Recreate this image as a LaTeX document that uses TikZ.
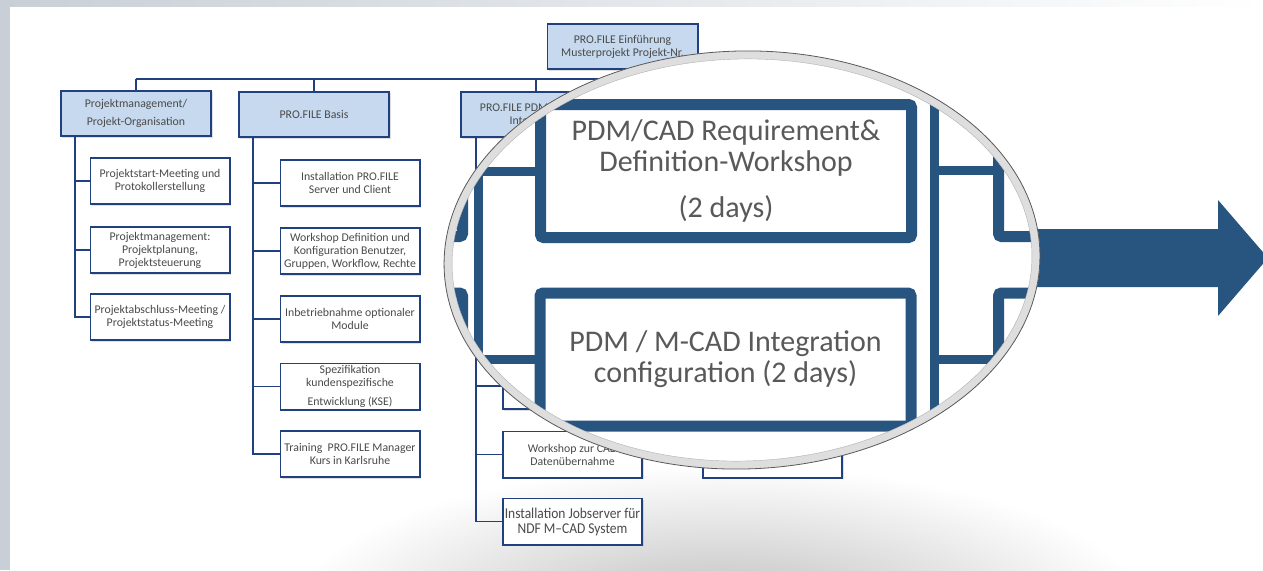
\documentclass[tikz,border=0pt]{standalone}
\usepackage{fontspec}
\setmainfont{Carlito}
\newfontfamily\jobfont[FakeStretch=0.9]{Carlito}
\usetikzlibrary{shadows,positioning}
\definecolor{navy}{HTML}{21407F}
\definecolor{lightblue}{HTML}{C6D9EE}
\definecolor{steel}{HTML}{285580}
\definecolor{txtgray}{HTML}{4A4A4A}
\definecolor{strip}{HTML}{C8CFD6}
\tikzset{
  box/.style={draw=navy, line width=1.6pt, fill=white, text=txtgray, align=center,
    minimum width=139.4pt, minimum height=46.4pt, inner sep=1pt,
    font=\fontsize{11.8}{13}\selectfont,
    drop shadow={shadow xshift=1.5pt, shadow yshift=-1.5pt, opacity=.25}},
  headbox/.style={box, fill=lightblue, minimum width=150.4pt, minimum height=45.4pt},
  link/.style={draw=navy, line width=1.6pt},
  bigbox/.style={draw=steel, line width=11pt, rounded corners=3pt, fill=white,
    text=black!65, align=center, inner sep=0pt,
    minimum width=371pt, minimum height=133pt,
    font=\fontsize{30}{31}\selectfont,
    drop shadow={shadow xshift=2pt, shadow yshift=-3pt, opacity=.3}},
  biglink/.style={draw=steel, line width=9pt},
  lens/.style={shift={(742,260)}, rotate=1.5}
}
\begin{document}
\begin{tikzpicture}[x=1pt,y=-1pt]
\clip (0,0) rectangle (1263,570);
\fill[white] (0,0) rectangle (1263,570);
\shade[inner color=black!26, outer color=white] (720,615) ellipse [x radius=430, y radius=150];
\shade[left color=strip, right color=white] (0,0) rectangle (1263,6);
\fill[strip] (0,0) rectangle (10,570);

% overview chart
\node[headbox] (top) at (622.5,46.5) {PRO.FILE Einführung\\Musterprojekt Projekt-Nr.};
\node[headbox] (pm) at (136,113.5) {Projektmanagement/\\[5pt]Projekt-Organisation};
\node[headbox] (basis) at (314,114.5) {PRO.FILE Basis};
\node[headbox] (integ) at (536,114.5) {PRO.FILE PDM / M-CAD\\Integration};

\coordinate (busl) at (136,79);
\coordinate (busr) at (776,79);
\draw[link] (busl) -- (busr);
\draw[link] (top.south) -- (top.south |- busl);
\foreach \n in {pm,basis,integ}
  \draw[link] (\n.north) -- (\n.north |- busl);

\node[box] (pm1) at (160,181) {Projektstart-Meeting und\\Protokollerstellung};
\node[box] (pm2) at (160,250) {Projektmanagement:\\Projektplanung,\\Projektsteuerung};
\node[box] (pm3) at (160,317) {Projektabschluss-Meeting /\\Projektstatus-Meeting};
\coordinate (pmspine) at ([xshift=15pt]pm.south west);
\foreach \n in {pm1,pm2,pm3}
  \draw[link] (pmspine) |- (\n.west);

\node[box] (bs1) at (350,183) {Installation PRO.FILE\\Server und Client};
\node[box] (bs2) at (350,251) {Workshop Definition und\\Konfiguration Benutzer,\\Gruppen, Workflow, Rechte};
\node[box] (bs3) at (350,319) {Inbetriebnahme optionaler\\Module};
\node[box] (bs4) at (350,386.5) {Spezifikation\\kundenspezifische\\[6pt]Entwicklung (KSE)};
\node[box] (bs5) at (350,454) {Training~ PRO.FILE Manager\\Kurs in Karlsruhe};
\coordinate (bsspine) at ([xshift=15pt]basis.south west);
\foreach \n in {bs1,bs2,bs3,bs4,bs5}
  \draw[link] (bsspine) |- (\n.west);

\node[box] (in4) at (572.5,386) {};
\node[box] (in5) at (572.5,454.5) {Workshop zur CAD\\Datenübernahme};
\node[box, font=\jobfont\fontsize{15}{15}\selectfont] (in6) at (572.5,521.5) {Installation Jobserver für\\NDF M–CAD System};
\coordinate (inspine) at ([xshift=16pt]integ.south west);
\foreach \n in {in4,in5,in6}
  \draw[link] (inspine) |- (\n.west);

\node[box] (ws4) at (772.5,454.5) {};
\coordinate (wsspine) at (677,138);
\draw[link] (wsspine |- busl) -- (wsspine) |- (ws4.west);

% arrow
\fill[steel] (1030,229) -- (1218,229) -- (1218,200) -- (1268,258)
  -- (1218,316) -- (1218,287) -- (1030,287) -- cycle;

% magnifier
\fill[white, lens] (0,0) ellipse [x radius=298, y radius=209];
\begin{scope}
  \path[clip, lens] (0,0) ellipse [x radius=294, y radius=205];
  \node[bigbox] (lreq) at (277,170) {};
  \node[bigbox] (lcad) at (277,359.5) {};
  \node[bigbox] (req) at (726,171) {PDM/CAD Requirement\&\\Definition-Workshop\\[15pt](2 days)};
  \node[bigbox] (cad) at (725.5,359.5) {PDM / M-CAD Integration\\configuration (2 days)};
  \node[bigbox] (rreq) at (1184,170) {};
  \node[bigbox] (rcad) at (1184,359.5) {};
  \coordinate (mspine) at (478,40);
  \coordinate (mspineend) at (478,480);
  \coordinate (rspine) at (934,40);
  \coordinate (rspineend) at (934,480);
  \draw[biglink] (mspine) -- (mspineend);
  \draw[biglink] (rspine) -- (rspineend);
  \draw[biglink] (mspine |- req.west) -- (req.west);
  \draw[biglink] (mspine |- cad.west) -- (cad.west);
  \draw[biglink] (rspine |- rreq.west) -- (rreq.west);
  \draw[biglink] (rspine |- rcad.west) -- (rcad.west);
\end{scope}
\draw[line width=8pt, black!13, lens] (0,0) ellipse [x radius=294, y radius=205];
\draw[line width=.4pt, black!30, lens] (0,0) ellipse [x radius=290, y radius=201];
\draw[line width=.8pt, black!65, lens] (0,0) ellipse [x radius=298, y radius=209];
\end{tikzpicture}
\end{document}
